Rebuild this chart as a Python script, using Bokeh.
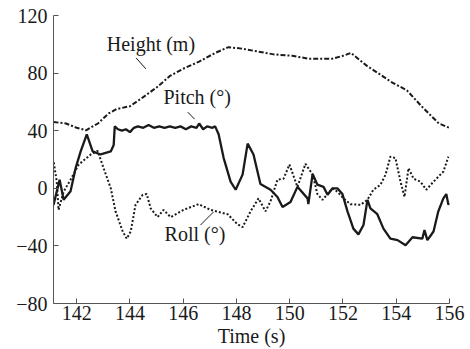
from bokeh.plotting import figure
from bokeh.models import Range1d, FixedTicker, Label, ColumnDataSource
from bokeh.embed import file_html
from bokeh.resources import INLINE

# Height (m) series
height_t = [141.13, 141.6, 142.0, 142.35, 142.8, 143.2, 143.5, 144.0, 144.4, 145.0,
            145.5, 146.0, 146.6, 147.2, 147.7, 148.2, 148.8, 149.4, 150.1, 150.7,
            151.6, 152.0, 152.3, 152.9, 153.4, 153.8, 154.4, 155.0, 155.6, 156.0]
height_v = [46, 45, 42, 40.3, 45, 52, 55, 57, 62, 70,
            78, 83, 88, 94, 98, 97, 95, 93, 92, 90,
            90, 92, 94, 85, 79, 74, 68, 56, 45, 42]

# Pitch (deg) series
pitch_t = [141.13, 141.36, 141.51, 141.77, 141.96, 142.15, 142.38, 142.6, 142.9, 143.28,
           143.39, 143.43, 143.55, 143.7, 143.85, 144.0, 144.15, 144.3, 144.5, 144.7,
           144.9, 145.1, 145.3, 145.5, 145.7, 145.9, 146.1, 146.3, 146.5, 146.6,
           146.75, 146.9, 147.1, 147.2, 147.33, 147.52, 147.78, 147.97, 148.23, 148.42,
           148.64, 148.9, 149.28, 149.54, 149.73, 150.03, 150.29, 150.67, 150.7, 150.86,
           151.04, 151.27, 151.42, 151.61, 151.79, 151.98, 152.17, 152.39, 152.58, 152.77,
           152.92, 153.03, 153.29, 153.52, 153.78, 154.05, 154.35, 154.61, 154.98, 155.06,
           155.17, 155.4, 155.58, 155.77, 155.88, 155.96, 156.0]
pitch_v = [-11.5, 6, -8, -2, 14, 25.6, 37.5, 25.6, 23.5, 25.6,
           30, 43, 41, 40, 41, 39, 42, 43, 42, 44,
           42, 43, 42, 43, 42, 43, 41, 43, 42, 45,
           41, 43, 42, 43, 37.5, 21, 4.6, -1, 9.5, 31,
           23.5, 3, -1, -6, -13, -9.5, 1, -7, -11, 10,
           2.5, 1, -4.5, 0, 0, -4, -16, -28, -32, -25.5,
           -8, -14, -18, -28, -35, -36, -39.5, -34, -35, -29,
           -36, -30, -16, -7, -4, -11.5, -10]

# Roll (deg) series
roll_t = [141.14, 141.25, 141.32, 141.51, 141.77, 142.08, 142.53, 142.79, 143.01, 143.28,
          143.46, 143.73, 143.88, 144.03, 144.21, 144.48, 144.63, 144.78, 145.04, 145.26,
          145.53, 146.01, 146.58, 147.03, 147.67, 148.04, 148.23, 148.53, 148.83, 149.09,
          149.28, 149.54, 149.77, 149.99, 150.29, 150.59, 150.86, 151.04, 151.23, 151.42,
          151.61, 151.79, 152.02, 152.28, 152.66, 152.92, 153.14, 153.41, 153.6, 153.78,
          153.97, 154.16, 154.31, 154.46, 154.65, 154.91, 155.13, 155.4, 155.77, 155.96]
roll_v = [18, 5, -15, -2.4, 6, 16.5, 23.5, 26, 14, 0,
          -16, -30, -35, -30, -11.5, -4.5, -4, -14, -20, -15,
          -20, -15, -11, -15, -18, -25, -27, -16, -7, -16,
          -9, 6, 6.7, 16.5, 1, 17, 9.5, -4, -8, -4,
          0, -2.4, -7, -11, -11.5, -8, -1, 2.5, 9.5, 22,
          21, 4.6, -6, 14, 6.7, 4.6, -1, 4.6, 11.6, 22]

x_ticks = [142, 144, 146, 148, 150, 152, 154, 156]
y_ticks = [-80, -40, 0, 40, 80, 120]
x_title = "Time (s)"

# annotation texts and anchors
ann_text = ["Height (m)", "Pitch (°)", "Roll (°)"]
ann_x = [143.13, 145.26, 145.30]
ann_y = [100.4, 63.4, -31.7]
lead_x0 = [144.23, 146.17, 146.65]
lead_y0 = [90.6, 52.9, -25.5]
lead_x1 = [144.6, 146.43, 147.14]
lead_y1 = [82.9, 48.0, -16.4]

FONT = "serif"
INK = "#1a1a1a"

p = figure(width=470, height=349, output_backend="svg", toolbar_location=None,
           x_range=Range1d(141.13, 156.0), y_range=Range1d(-80, 120),
           min_border_left=53, min_border_right=21, min_border_top=15, min_border_bottom=0)
p.outline_line_color = None
p.grid.visible = False
p.background_fill_color = "white"
p.border_fill_color = "white"

for ax in (p.xaxis[0], p.yaxis[0]):
    ax.axis_line_color = "#555555"
    ax.axis_line_width = 1
    ax.major_tick_in = 5
    ax.major_tick_out = 0
    ax.major_tick_line_color = "#555555"
    ax.minor_tick_line_color = None
    ax.major_label_text_font = FONT
    ax.major_label_text_font_size = "20px"
    ax.major_label_text_color = INK

p.xaxis.ticker = FixedTicker(ticks=x_ticks)
p.yaxis.ticker = FixedTicker(ticks=y_ticks)
p.yaxis.major_label_overrides = {t: (("\u2212" + str(abs(t))) if t < 0 else str(t)) for t in y_ticks}
p.xaxis.major_label_standoff = 2
p.yaxis.major_label_standoff = 6
p.xaxis.axis_label = x_title
p.xaxis.axis_label_text_font = FONT
p.xaxis.axis_label_text_font_size = "20px"
p.xaxis.axis_label_text_font_style = "normal"
p.xaxis.axis_label_text_color = INK
p.xaxis.axis_label_standoff = 2

p.line(height_t, height_v, line_color=INK, line_width=2, line_dash="5 2 2 2")
p.line(pitch_t, pitch_v, line_color=INK, line_width=2.3)
p.line(roll_t, roll_v, line_color=INK, line_width=2, line_dash="2 2")

src = ColumnDataSource(dict(x0=lead_x0, y0=lead_y0, x1=lead_x1, y1=lead_y1))
p.segment(x0="x0", y0="y0", x1="x1", y1="y1", source=src, line_color=INK, line_width=1)

for t, x, y in zip(ann_text, ann_x, ann_y):
    p.add_layout(Label(x=x, y=y, text=t, text_font=FONT, text_font_size="20px",
                       text_color=INK, text_align="left", text_baseline="middle"))

open("out.html", "w").write(file_html(p, INLINE))
